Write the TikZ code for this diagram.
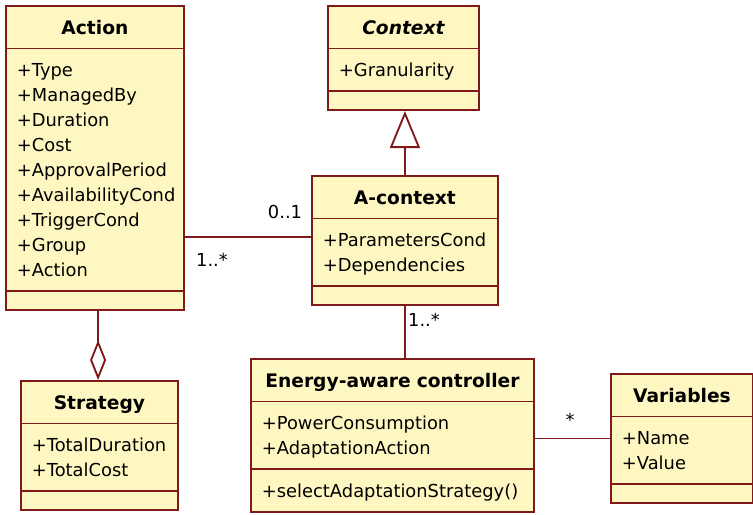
\documentclass[tikz,border=0pt]{standalone}
\usepackage{fontspec}
\setmainfont{DejaVu Sans}
\usetikzlibrary{shapes.multipart,arrows.meta}

\definecolor{umlline}{RGB}{128,26,26}
\definecolor{umlfill}{RGB}{255,247,194}
\newcommand{\rowstrut}{\rule[-4.25pt]{0pt}{18.75pt}}
\newcommand{\classname}[1]{\hfill{\fontsize{14}{18.75}\selectfont\bfseries#1}\hfill\rowstrut}

\tikzset{
  umlclass/.style={rectangle split, rectangle split parts=3, draw=umlline, fill=umlfill,
    line width=1.4pt, inner xsep=8.25pt, inner ysep=5.9pt, align=left,
    anchor=north west, font=\fontsize{13.4}{18.75}\selectfont},
  mult/.style={font=\fontsize{13.4}{16}\selectfont, inner sep=0pt},
  assoc/.style={draw=umlline, line width=1.4pt}
}

\begin{document}
\begin{tikzpicture}[x=0.75pt, y=-0.75pt]
\useasboundingbox (0,0) rectangle (753,514);

% classes
\node[umlclass, text width=117pt] (action) at (5,5) {\classname{Action}
  \nodepart{two}+Type\rowstrut\\+ManagedBy\rowstrut\\+Duration\rowstrut\\+Cost\rowstrut\\
  +ApprovalPeriod\rowstrut\\+AvailabilityCond\rowstrut\\+TriggerCond\rowstrut\\
  +Group\rowstrut\\+Action\rowstrut
  \nodepart{three}\rule{0pt}{1pt}};

\node[umlclass, text width=96.75pt] (context) at (327,5) {\classname{\itshape Context}
  \nodepart{two}+Granularity\rowstrut
  \nodepart{three}\rule{0pt}{1pt}};

\node[umlclass, text width=123pt] (actx) at (311,175) {\classname{A-context}
  \nodepart{two}+ParametersCond\rowstrut\\+Dependencies\rowstrut
  \nodepart{three}\rule{0pt}{1pt}};

\node[umlclass, text width=195.75pt] (controller) at (250,358) {\classname{Energy-aware controller}
  \nodepart{two}+PowerConsumption\rowstrut\\+AdaptationAction\rowstrut
  \nodepart{three}+selectAdaptationStrategy()\rowstrut};

\node[umlclass, text width=90pt] (vars) at (610,373) {\classname{Variables}
  \nodepart{two}+Name\rowstrut\\+Value\rowstrut
  \nodepart{three}\rule{0pt}{1pt}};

\node[umlclass, text width=101.25pt] (strategy) at (20,380) {\classname{Strategy}
  \nodepart{two}+TotalDuration\rowstrut\\+TotalCost\rowstrut
  \nodepart{three}\rule{0pt}{1pt}};

% relations
\draw[assoc, -{Triangle[open, length=27.75pt, width=22.5pt]}] (actx.north) -- (actx.north |- context.south);
\draw[assoc] ([yshift=2.5pt]action.east |- actx.west) -- ([yshift=2.5pt]actx.west);
\draw[assoc] (actx.south) -- (actx.south |- controller.north);
\draw[assoc] (controller.east |- vars.west) -- (vars.west);
\draw[assoc, {Diamond[open, length=30pt, width=12pt]}-] ([xshift=-1pt]strategy.north) -- ([xshift=-1pt]strategy.north |- action.south);

% multiplicities
\node[mult] (m01) at (285,212) {0..1};
\node[mult] (m1n) at (212,260) {1..*};
\node[mult] (m1n2) at (424,320) {1..*};
\node[mult] (mstar) at (570,420) {*};
\end{tikzpicture}
\end{document}
